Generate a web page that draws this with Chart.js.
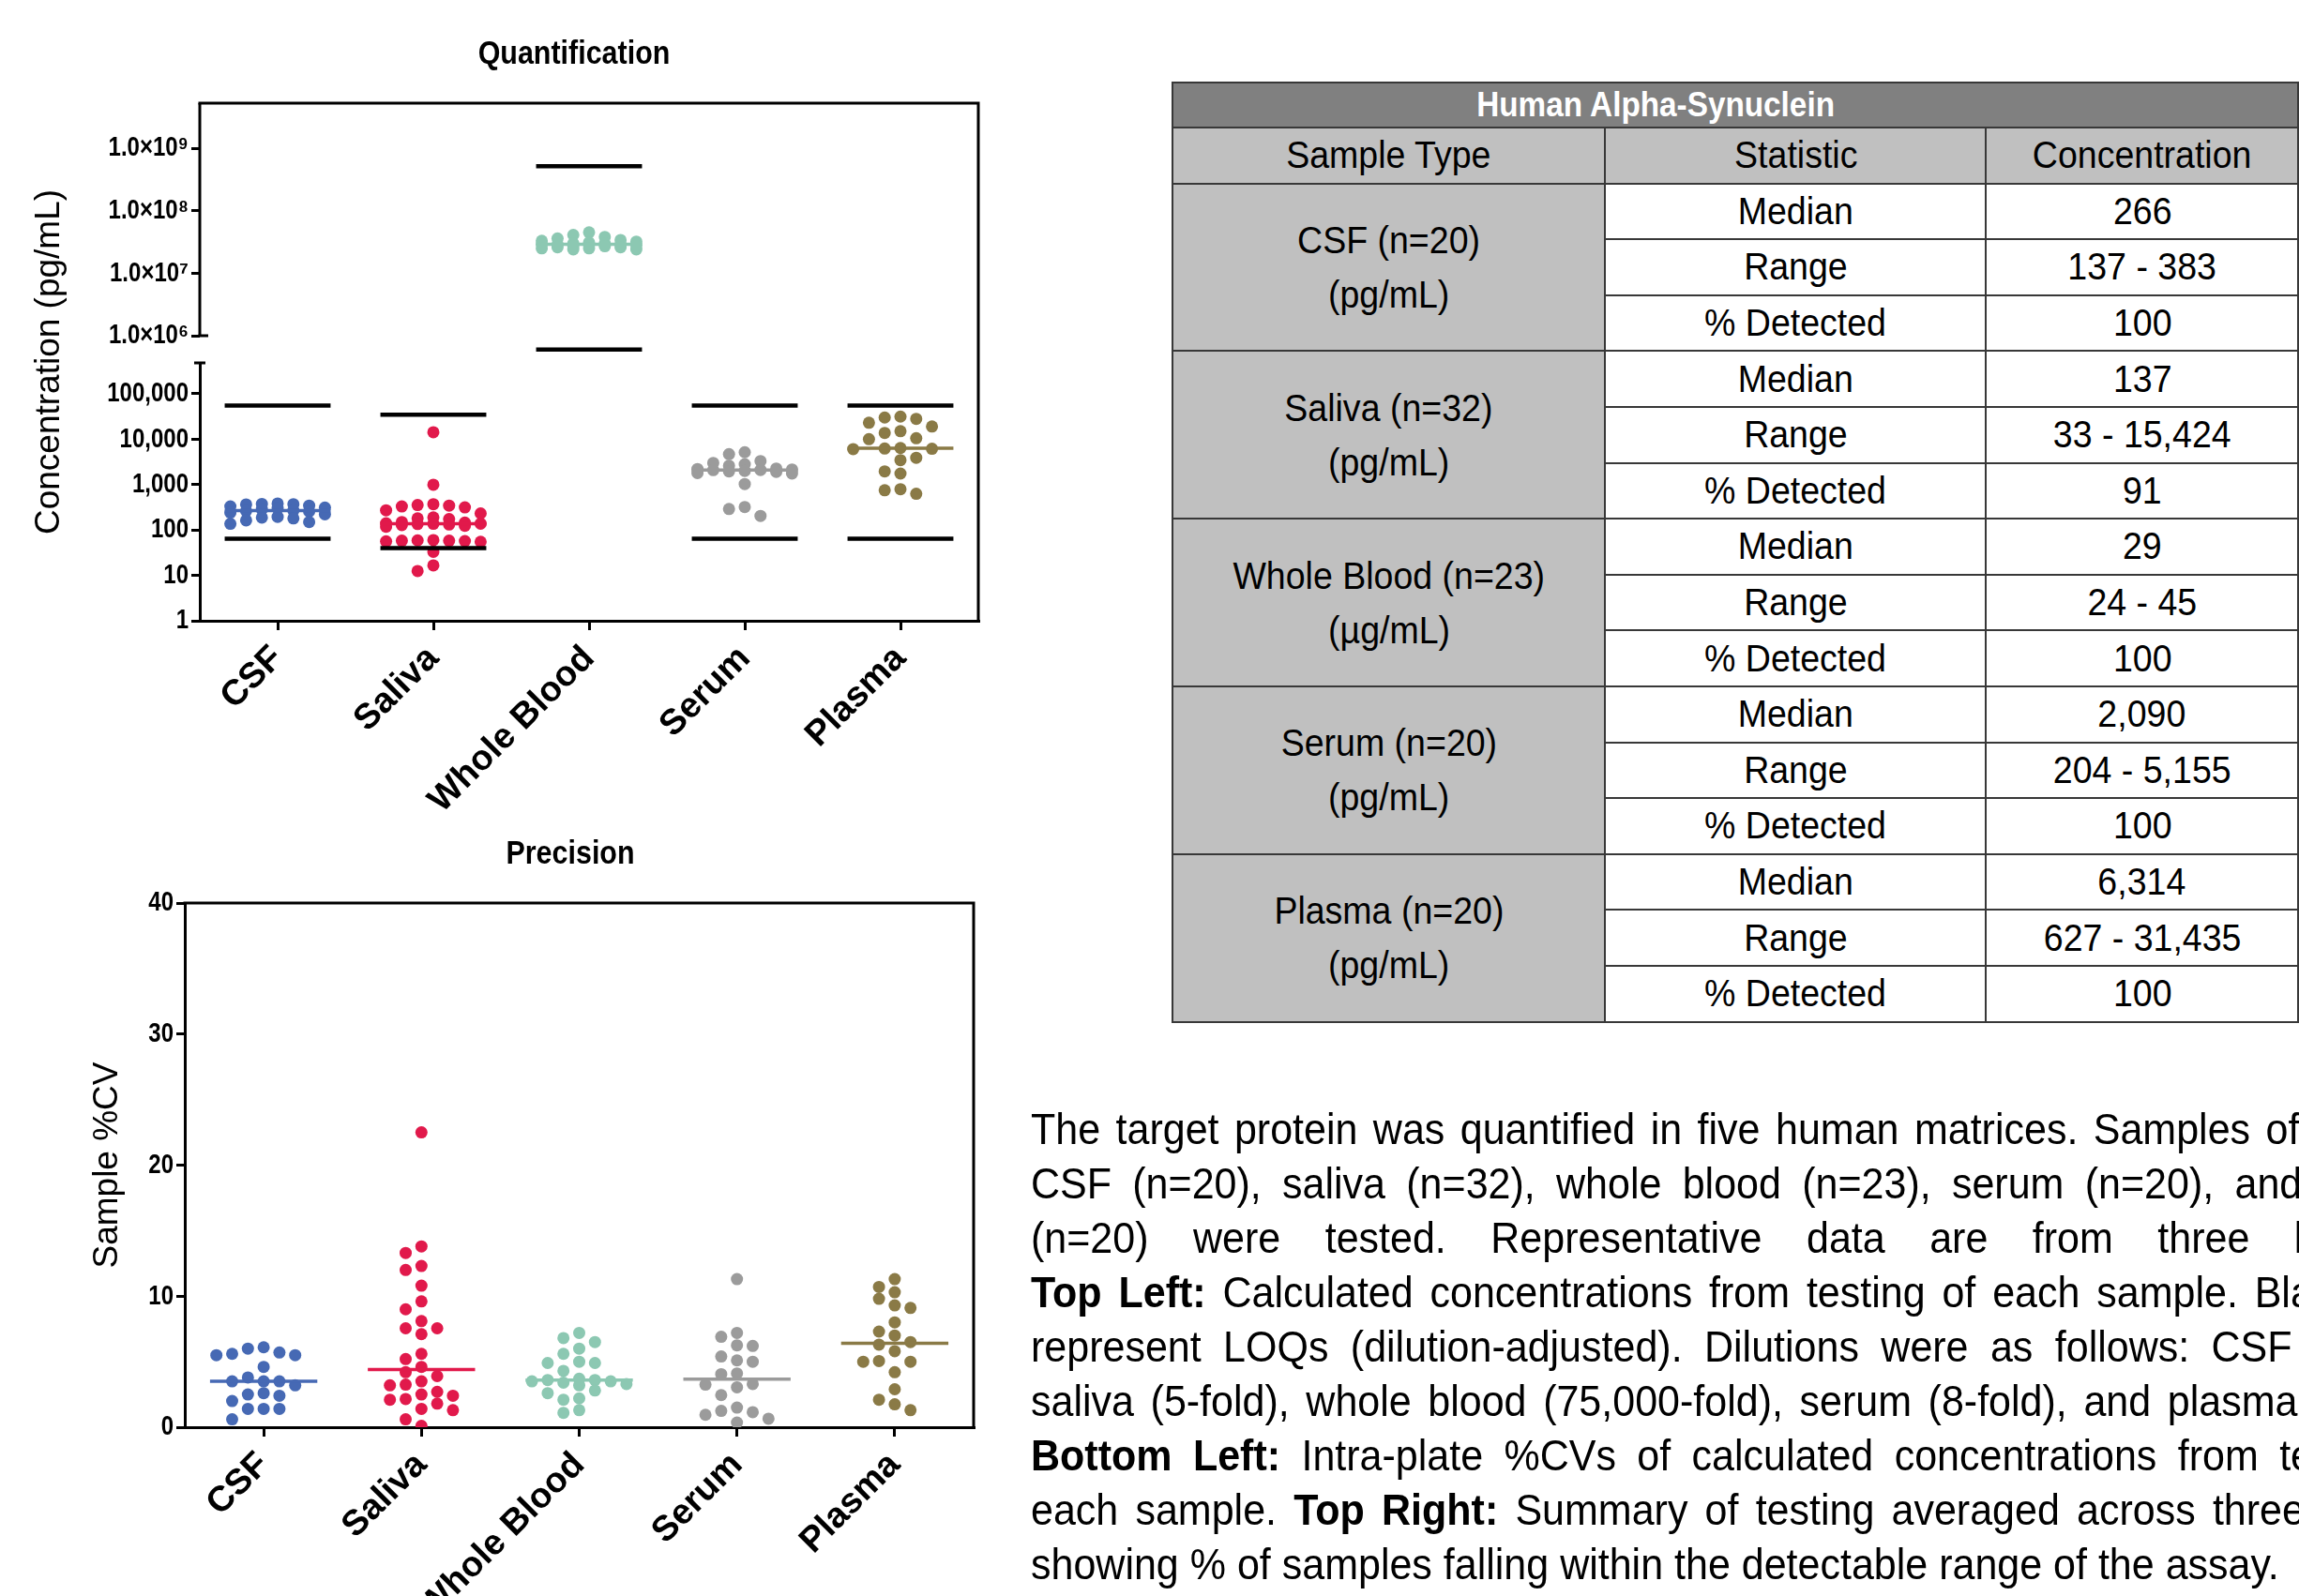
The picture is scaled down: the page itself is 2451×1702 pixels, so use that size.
<!DOCTYPE html>
<html lang="en">
<head>
<meta charset="utf-8">
<title>Human Alpha-Synuclein</title>
<script src="https://cdn.jsdelivr.net/npm/chart.js@4.4.1/dist/chart.umd.min.js"></script>
<style>
  html, body { margin: 0; padding: 0; background: #fff; }
  body { width: 2451px; height: 1702px; overflow: hidden; position: relative; color: #000;
         font-family: "Liberation Sans", Arial, sans-serif; }
  canvas { position: absolute; left: 0; }
  #quantChart { top: 0; }
  #precChart { top: 800px; }
  .nx { display: inline-block; transform: scaleX(0.915); transform-origin: center; white-space: nowrap; }
  #summary { position: absolute; left: 1249px; top: 87px; border-collapse: collapse; table-layout: fixed; font-size: 41px; }
  #summary td, #summary th { border: 2px solid #383838; text-align: center; vertical-align: middle; padding: 0; white-space: nowrap; overflow: hidden; }
  #summary th { background: #808080; color: #fff; font-weight: bold; font-size: 37px; padding-right: 170px; line-height: 44px; }
  #summary th .nx { transform: scaleX(0.9); }
  #summary tr.title { height: 48px; }
  #summary tr.row { height: 59.6px; }
  #summary tr.head td { background: #c0c0c0; }
  #summary td.sample { background: #c0c0c0; line-height: 58px; }
  #caption { position: absolute; left: 1099px; top: 1175px; font-size: 47px; line-height: 58px; }
  #caption div { width: 1657px; height: 58px; overflow: hidden; text-align: justify; text-align-last: justify;
                 transform: scaleX(0.915); transform-origin: left top; }
  #caption div.plain { text-align: left; text-align-last: left; }
  #caption div.first { word-spacing: 4.9px; }
</style>
</head>
<body>
<canvas id="quantChart" width="1240" height="900"></canvas>
<canvas id="precChart" width="1235" height="902"></canvas>
<table id="summary">
  <colgroup><col style="width:471px"><col style="width:425px"><col style="width:340px"></colgroup>
  <tbody id="summaryBody"></tbody>
</table>
<div id="caption">
  <div class="plain first">The target protein was quantified in five human matrices. Samples of</div>
  <div>CSF (n=20), saliva (n=32), whole blood (n=23), serum (n=20), and plasma</div>
  <div>(n=20) were tested. Representative data are from three kit lots.</div>
  <div><b>Top Left:</b> Calculated concentrations from testing of each sample. Black lines</div>
  <div>represent LOQs (dilution-adjusted). Dilutions were as follows: CSF (8-fold),</div>
  <div>saliva (5-fold), whole blood (75,000-fold), serum (8-fold), and plasma (8-fold).</div>
  <div><b>Bottom Left:</b> Intra-plate %CVs of calculated concentrations from testing of</div>
  <div>each sample. <b>Top Right:</b> Summary of testing averaged across three kit lots,</div>
  <div class="plain">showing % of samples falling within the detectable range of the assay.</div>
</div>
<script>
// ---- sample groups ----
const categories = ['CSF', 'Saliva', 'Whole Blood', 'Serum', 'Plasma'];
const colors = ['#4669b4', '#e1194b', '#8cc8b2', '#9b9b9b', '#8a7a46'];

// Calculated concentrations (pg/mL)
const csfConc = [383, 375, 370, 365, 345, 330, 312, 300, 285, 270, 262, 255, 240, 222, 195, 188, 180, 163, 150, 137];
const salivaConc = [14200, 990, 370, 355, 345, 330, 314, 272, 232, 189, 180, 174, 150, 145, 140, 138, 137, 135, 132, 128, 124, 118, 60, 59, 58, 58, 57, 56, 55, 33, 16.6, 12.5];
const wholeBloodConc = [45e6, 41e6, 38e6, 36e6, 34e6, 33e6, 32e6, 31e6, 30e6, 30e6, 29e6, 29e6, 29e6, 28e6, 28e6, 27e6, 27e6, 26e6, 26e6, 25e6, 25e6, 24e6, 24e6];
const serumConc = [5155, 4670, 3300, 3000, 2800, 2600, 2250, 2200, 2150, 2100, 2080, 2000, 1950, 1900, 1800, 1750, 1030, 320, 290, 204];
const plasmaConc = [31435, 30000, 28000, 23000, 19000, 15000, 13700, 10500, 10000, 6400, 6228, 6150, 6050, 3900, 3450, 1950, 1750, 790, 750, 627];

// Dilution-adjusted limits of quantification (pg/mL)
const upperLOQ = [55000, 34400, 5.16e8, 55000, 55000];
const lowerLOQ = [64, 40, 6.0e5, 64, 64];

// Intra-plate %CV
const csfCV = [6.1, 6.0, 5.7, 5.6, 5.5, 5.5, 4.6, 3.8, 3.5, 3.5, 3.5, 3.2, 2.6, 2.5, 2.4, 2.0, 1.4, 1.4, 1.4, 0.6];
const salivaCV = [22.5, 13.8, 13.3, 12.3, 12.0, 10.8, 9.6, 9.0, 8.1, 7.55, 7.55, 7.1, 5.6, 5.2, 4.6, 4.2, 3.9, 3.5, 3.25, 3.2, 2.7, 2.5, 2.4, 2.15, 2.1, 1.8, 1.4, 1.3, 0.6, 0.1];
const wholeBloodCV = [7.2, 6.8, 6.5, 6.0, 5.6, 5.0, 4.9, 4.9, 4.3, 3.7, 3.6, 3.6, 3.5, 3.5, 3.4, 3.3, 3.2, 2.8, 2.6, 2.2, 2.1, 1.3, 1.1];
const serumCV = [11.3, 7.2, 6.9, 6.25, 6.2, 5.4, 5.1, 5.0, 4.1, 4.05, 3.3, 3.25, 3.05, 2.45, 1.5, 1.25, 1.15, 0.95, 0.65, 0.35];
const plasmaCV = [11.3, 10.7, 10.3, 9.8, 9.3, 9.1, 8.0, 7.3, 7.0, 6.5, 6.3, 5.8, 5.05, 5.0, 5.0, 4.2, 2.9, 2.1, 1.75, 1.3];

// Axis ticks
const upperConcTicks = [1e6, 1e7, 1e8, 1e9];
const lowerConcTicks = [1, 10, 100, 1000, 10000, 100000];
const cvTicks = [0, 10, 20, 30, 40];

// Summary table
const tableSamples = ['CSF (n=20)', 'Saliva (n=32)', 'Whole Blood (n=23)', 'Serum (n=20)', 'Plasma (n=20)'];
const tableUnits = ['(pg/mL)', '(pg/mL)', '(µg/mL)', '(pg/mL)', '(pg/mL)'];
const statistics = ['Median', 'Range', '% Detected'];
const tableMedian = ['266', '137', '29', '2,090', '6,314'];
const tableRange = ['137 - 383', '33 - 15,424', '24 - 45', '204 - 5,155', '627 - 31,435'];
const tableDetected = ['100', '91', '100', '100', '100'];

const SANS = '"Liberation Sans", Arial, sans-serif';

// ---- table ----
(function buildTable() {
  const nx = t => '<span class="nx">' + t + '</span>';
  const body = document.getElementById('summaryBody');
  let html = '<tr class="title"><th colspan="3">' + nx('Human Alpha-Synuclein') + '</th></tr>';
  html += '<tr class="row head"><td>' + nx('Sample Type') + '</td><td>' + nx('Statistic') + '</td><td>' + nx('Concentration') + '</td></tr>';
  tableSamples.forEach((s, i) => {
    const vals = [tableMedian[i], tableRange[i], tableDetected[i]];
    statistics.forEach((st, k) => {
      html += '<tr class="row">';
      if (k === 0) html += '<td class="sample" rowspan="3">' + nx(s) + '<br>' + nx(tableUnits[i]) + '</td>';
      html += '<td>' + nx(st) + '</td><td>' + nx(vals[k]) + '</td></tr>';
    });
  });
  body.innerHTML = html;
})();

// ---- helpers ----
function median(a) {
  const s = [...a].sort((p, q) => p - q), n = s.length;
  return n % 2 ? s[(n - 1) / 2] : (s[n / 2 - 1] + s[n / 2]) / 2;
}
// column-based scatter layout: each dot takes the innermost free column, dots overlap when the columns are full
function swarmOffsets(pys, step, gap, maxCol) {
  const order = pys.map((_, i) => i).sort((a, b) => pys[a] - pys[b]);
  const cols = [0];
  for (let k = 1; k <= maxCol; k++) cols.push(-k, k);
  const placed = [], out = new Array(pys.length).fill(0);
  for (const i of order) {
    const y = pys[i];
    let best = 0, bestD = -1;
    for (const k of cols) {
      const x = k * step;
      let dmin = Infinity;
      for (const p of placed) dmin = Math.min(dmin, Math.hypot(p.x - x, p.y - y));
      if (dmin >= gap) { best = x; break; }
      if (dmin > bestD) { bestD = dmin; best = x; }
    }
    out[i] = best;
    placed.push({ x: best, y });
  }
  return out;
}
function applySwarm(chart) {
  const xs = chart.scales.x;
  const unit = xs.getPixelForValue(2) - xs.getPixelForValue(1);
  chart.data.datasets.forEach(ds => {
    if (!ds.swarmValues) return;
    const ys = chart.scales[ds.yAxisID];
    const off = swarmOffsets(ds.swarmValues.map(v => ys.getPixelForValue(v)), 16.8, 12, 3);
    ds.data = ds.swarmValues.map((v, k) => ({ x: ds.swarmCenter + off[k] / unit, y: v }));
  });
  chart.update('none');
}
const SUP = '⁰¹²³⁴⁵⁶⁷⁸⁹';
function sciLabel(v) {
  const e = String(Math.round(Math.log10(v)));
  return '1.0×10' + e.split('').map(c => SUP[+c]).join('');
}
const HALF = 0.34;
function groupDatasets(groups, axisFor, withLOQ) {
  const sets = [];
  groups.forEach((vals, i) => {
    const c = i + 1, yAxisID = axisFor(i), m = median(vals);
    sets.push({ type: 'scatter', data: vals.map(v => ({ x: c, y: v })), swarmValues: vals, swarmCenter: c,
      yAxisID, backgroundColor: colors[i], borderWidth: 0, pointRadius: 6.5, pointHoverRadius: 6.5, order: 3 });
    sets.push({ type: 'line', data: [{ x: c - HALF, y: m }, { x: c + HALF, y: m }], yAxisID,
      borderColor: colors[i], borderWidth: 3.5, pointRadius: 0, fill: false, order: 2 });
    if (withLOQ) {
      [upperLOQ[i], lowerLOQ[i]].forEach(lim => sets.push({ type: 'line',
        data: [{ x: c - HALF, y: lim }, { x: c + HALF, y: lim }], yAxisID,
        borderColor: '#000', borderWidth: 4.5, pointRadius: 0, fill: false, order: 1 }));
    }
  });
  return sets;
}
const TICK_LEN = 9;
const tickGrid = { drawOnChartArea: false, drawTicks: true, tickLength: TICK_LEN, tickWidth: 3, tickColor: '#000', lineWidth: 3, color: '#000' };
function categoryAxis(height) {
  return {
    type: 'linear', min: 0.5, max: 5.5,
    afterBuildTicks: s => { s.ticks = categories.map((_, i) => ({ value: i + 1 })); },
    ticks: { callback: v => categories[Math.round(v) - 1], autoSkip: false, minRotation: 45, maxRotation: 45,
             font: { family: SANS, size: 38, weight: 'bold' }, color: '#000', padding: 8 },
    grid: Object.assign({}, tickGrid, { tickLength: 10 }),
    border: { display: true, color: '#000', width: 3 },
    afterFit: s => { s.height = height; }
  };
}
function valueAxis(width, opts) {
  return Object.assign({
    position: 'left', afterFit: s => { s.width = width; },
    grid: tickGrid, border: { display: true, color: '#000', width: 3 }
  }, opts);
}
// value-axis labels are drawn condensed by the frame plugin
function valueTicks(callback) {
  return { callback, display: false, autoSkip: false };
}
function condensedText(ctx, text, x, y, font, squeeze, align) {
  ctx.save();
  ctx.font = font; ctx.fillStyle = '#000';
  ctx.textAlign = align; ctx.textBaseline = 'middle';
  ctx.translate(x, y); ctx.scale(squeeze, 1);
  ctx.fillText(text, 0, 0);
  ctx.restore();
}
// plot frame (top + right edges), chart title, value-axis labels and rotated axis title
const framePlugin = {
  id: 'frame',
  afterDraw(chart, args, opts) {
    const { ctx, chartArea: a } = chart;
    ctx.save();
    ctx.strokeStyle = '#000'; ctx.lineWidth = 3;
    ctx.beginPath(); ctx.moveTo(a.left - 1.5, a.top); ctx.lineTo(a.right, a.top); ctx.lineTo(a.right, a.bottom + 1.5); ctx.stroke();
    ctx.restore();
    condensedText(ctx, opts.title, opts.titleX, opts.titleY, 'bold 35px ' + SANS, 0.87, 'center');
    for (const id of opts.valueScales) {
      const s = chart.scales[id];
      for (const t of s.ticks) {
        condensedText(ctx, t.label, s.right - TICK_LEN - 3, s.getPixelForValue(t.value), 'bold 30px ' + SANS, 0.8, 'right');
      }
    }
    ctx.save();
    ctx.fillStyle = '#000'; ctx.font = '37px ' + SANS;
    ctx.textAlign = 'center'; ctx.textBaseline = 'middle';
    ctx.translate(opts.axisTitleX, (a.top + a.bottom) / 2);
    ctx.rotate(-Math.PI / 2);
    ctx.fillText(opts.axisTitle, 0, 0);
    ctx.restore();
  }
};
// broken concentration axis: upper segment line and end caps
const brokenAxisPlugin = {
  id: 'brokenAxis',
  afterDraw(chart) {
    const { ctx, chartArea: a, scales } = chart;
    const bottomHigh = scales.yHigh.getPixelForValue(upperConcTicks[0]);
    const topLow = scales.yLow.top;
    ctx.save();
    ctx.strokeStyle = '#000'; ctx.lineWidth = 3;
    ctx.beginPath(); ctx.moveTo(a.left, a.top); ctx.lineTo(a.left, bottomHigh); ctx.stroke();
    ctx.beginPath(); ctx.moveTo(a.left - 1.5, bottomHigh); ctx.lineTo(a.left + 9, bottomHigh); ctx.stroke();
    ctx.beginPath(); ctx.moveTo(a.left - 6, topLow); ctx.lineTo(a.left + 6, topLow); ctx.stroke();
    ctx.restore();
  }
};

Chart.defaults.color = '#000';
Chart.defaults.font.family = SANS;

// ---- Quantification ----
const quantChart = new Chart(document.getElementById('quantChart'), {
  type: 'scatter',
  data: { datasets: groupDatasets([csfConc, salivaConc, wholeBloodConc, serumConc, plasmaConc], i => (i === 2 ? 'yHigh' : 'yLow'), true) },
  options: {
    responsive: false, animation: false, devicePixelRatio: 1,
    layout: { padding: { left: 0, right: 197, top: 110, bottom: 0 } },
    plugins: {
      legend: { display: false }, tooltip: { enabled: false }, title: { display: false },
      frame: { title: 'Quantification', titleX: 612, titleY: 58, valueScales: ['yLow', 'yHigh'],
               axisTitle: 'Concentration (pg/mL)', axisTitleX: 53 }
    },
    scales: {
      x: categoryAxis(238),
      yLow: valueAxis(213, {
        type: 'logarithmic', stack: 'conc', stackWeight: 275, weight: 0,
        min: 1, max: Math.pow(10, 5.68),
        afterBuildTicks: s => { s.ticks = lowerConcTicks.map(v => ({ value: v })); },
        ticks: valueTicks(v => Number(v).toLocaleString('en-US'))
      }),
      yHigh: valueAxis(213, {
        type: 'logarithmic', stack: 'conc', stackWeight: 277, weight: 1,
        min: Math.pow(10, 5.565), max: Math.pow(10, 9.72),
        afterBuildTicks: s => { s.ticks = upperConcTicks.map(v => ({ value: v })); },
        ticks: valueTicks(v => sciLabel(v)),
        border: { display: false }
      })
    }
  },
  plugins: [framePlugin, brokenAxisPlugin]
});
applySwarm(quantChart);

// ---- Precision ----
const precChart = new Chart(document.getElementById('precChart'), {
  type: 'scatter',
  data: { datasets: groupDatasets([csfCV, salivaCV, wholeBloodCV, serumCV, plasmaCV], () => 'y', false) },
  options: {
    responsive: false, animation: false, devicePixelRatio: 1,
    layout: { padding: { left: 0, right: 197, top: 163, bottom: 0 } },
    plugins: {
      legend: { display: false }, tooltip: { enabled: false }, title: { display: false },
      frame: { title: 'Precision', titleX: 608, titleY: 111, valueScales: ['y'],
               axisTitle: 'Sample %CV', axisTitleX: 115 }
    },
    scales: {
      x: categoryAxis(180),
      y: valueAxis(197, {
        type: 'linear', min: 0, max: 40,
        afterBuildTicks: s => { s.ticks = cvTicks.map(v => ({ value: v })); },
        ticks: valueTicks(v => String(v))
      })
    }
  },
  plugins: [framePlugin]
});
applySwarm(precChart);
</script>
</body>
</html>
